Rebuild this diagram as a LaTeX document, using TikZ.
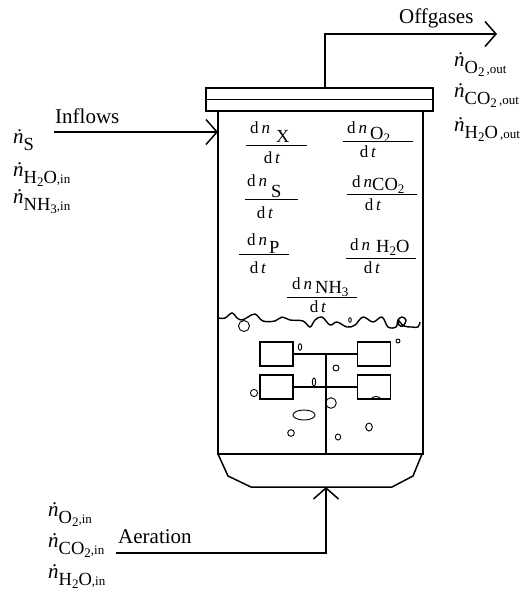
\documentclass[tikz,border=0pt]{standalone}
\usepackage{fontspec}
\setmainfont{Liberation Serif}
\usetikzlibrary{arrows.meta, positioning, calc}

\newcommand{\szbig}{\fontsize{21}{21}\selectfont}
\newcommand{\szspec}{\fontsize{18.5}{18.5}\selectfont}
\newcommand{\szmid}{\fontsize{17}{17}\selectfont}
\newcommand{\sztiny}{\fontsize{13}{13}\selectfont}
\newcommand{\lowtwo}[1]{\raisebox{-3pt}{\sztiny #1}}
\newcommand{\ndot}{\szbig\textit{\.n}}
% flow symbol: species in the middle size, suffix small
\newcommand{\flowsym}[2]{\ndot\raisebox{-7pt}{\szspec #1}\raisebox{-7pt}{\sztiny #2}}

\tikzset{
  flowline/.style={line width=1.5pt, -{Straight Barb[length=11pt,width=25pt,line width=1.5pt]}},
  wall/.style={line width=1.5pt},
  caption/.style={anchor=base west, inner sep=0pt, font=\szbig},
  flowlabel/.style={anchor=base west, inner sep=0pt},
  ratepart/.style={anchor=base west, inner sep=0pt, font=\szmid},
  ratespecies/.style={anchor=base west, inner sep=0pt, font=\szspec},
  ratedt/.style={anchor=base, inner sep=0pt, font=\szmid},
  paddle/.style={draw, line width=1.8pt, minimum width=33pt, minimum height=24pt, inner sep=0pt},
  bubble/.style={line width=.9pt},
}

% name, rule x0, rule x1, rule y, dn x, dn y, species x, species y, species, dt x, dt y
\newcommand{\ratefrac}[9]{%
  \draw[line width=.7pt] (#2,#4) -- (#3,#4);
  \node[ratepart] (dn#1) at (#5,#6) {d\,\textit{n}};
  \node[ratespecies] (sp#1) at (#7,#8) {#9};
  \ratedt{#1}}
\newcommand{\ratedt}[3]{\node[ratedt] (dt#1) at (#2,#3) {d\,\textit{t}};}

\begin{document}
\begin{tikzpicture}[x=1pt, y=-1pt]
  \useasboundingbox (0,0) rectangle (527,592);

  % vessel
  \node[draw, line width=1.5pt, minimum width=227pt, minimum height=23pt, inner sep=0pt] (lid) at (319.5,99.5) {};
  \draw[wall] (218,111) -- (218,454) -- (423,454) -- (423,111);
  \draw[wall] (lid.west) -- (lid.east);
  \draw[wall] (218,454) -- (228,476) -- (251,487) -- (392,487) -- (413,476) -- (422,454);

  % surface
  \draw[line width=1.4pt] plot[smooth, tension=.6] coordinates {
    (218,318) (225,318) (232,313) (237,318) (242,320) (248,317) (255,314) (263,321)
    (275,321) (282,317) (290,320) (303,321) (310,327) (315,320) (322,317) (330,325)
    (337,322) (347,327) (355,325) (363,317) (373,322) (382,317) (388,327) (396,327)
    (398,320) (402,317) (406,320) (403,326) (399,325) (398,320) (404,326) (412,327) (418,327) (420,322)};

  % impeller
  \node[paddle] (paddleTL) at (276.5,354) {};
  \node[paddle] (paddleBL) at (276.5,387) {};
  \node[paddle] (paddleTR) at (374,354) {};
  \node[paddle] (paddleBR) at (374,387) {};
  \coordinate (shaftTop) at (326,354);
  \coordinate (shaftEnd) at (326,454);
  \draw[line width=1.1pt] (paddleTL) -- (paddleTR);
  \draw[line width=1.5pt] (paddleBL) -- (paddleBR);
  \draw[line width=1.2pt] (shaftTop) -- (shaftEnd);

  % bubbles
  \foreach \bx/\by/\brx/\bry in {244/326/5.5/5.5, 300/347/1.7/3.3, 350/320/1.3/2.3, 398/341/2/2,
      336/368/3/3, 314/382/1.7/4, 254/393/3.6/3.6, 331/403/5.3/5.3, 304/415/11/5,
      369/427/3.3/4, 291/433/3.3/3.3, 338/437/2.7/3}
    \draw[bubble] (\bx,\by) ellipse ({\brx} and {\bry});
  \draw[bubble] (371,399.5) arc[start angle=180, end angle=360, x radius=5, y radius=3];

  % rates
  \ratefrac{X}{246}{307}{145}{250}{133}{276}{142}{X}{272}{163}
  \ratefrac{Otwo}{343}{413}{141}{347}{133}{370}{139}{O\lowtwo{2}}{368}{157}
  \ratefrac{S}{245}{298}{199}{247}{186}{271}{197}{S}{265}{218}
  \ratefrac{COtwo}{347}{417}{194}{352}{187}{372}{190}{CO\lowtwo{2}}{373}{210}
  \ratefrac{P}{239}{289}{254}{247}{245}{269}{253}{P}{258}{273}
  \ratefrac{HtwoO}{346}{416}{258}{350}{250}{376}{252}{H\lowtwo{2}O}{372}{273}
  \ratefrac{NHthree}{287}{357}{297}{292}{289}{315}{293}{NH\lowtwo{3}}{318}{312}

  % offgases
  \coordinate (offStart) at (325,88);
  \coordinate (offBend) at (325,34);
  \coordinate (offEnd) at (497,34);
  \draw[flowline] (offStart) -- (offBend) -- (offEnd);
  \node[caption] (offgases) at (399,23) {Offgases};
  \node[flowlabel] (outOtwo) at (454,66) {\flowsym{O\lowtwo{2}}{\,,out}};
  \node[flowlabel] (outCOtwo) at (454,97) {\flowsym{CO\lowtwo{2}}{\,,out}};
  \node[flowlabel] (outHtwoO) at (454,131) {\flowsym{H\lowtwo{2}O}{\,,out}};

  % inflows
  \coordinate (inStart) at (54,132);
  \coordinate (inEnd) at (218,132);
  \draw[flowline] (inStart) -- (inEnd);
  \node[caption] (inflows) at (55,123) {Inflows};
  \node[flowlabel] (inS) at (13,143) {\flowsym{S}{}};
  \node[flowlabel] (inHtwoO) at (13,176) {\flowsym{H\lowtwo{2}O}{,in}};
  \node[flowlabel] (inNHthree) at (13,203) {\flowsym{NH\lowtwo{3}}{,in}};

  % aeration
  \coordinate (airStart) at (116,553);
  \coordinate (airBend) at (326,553);
  \coordinate (airEnd) at (326,487);
  \draw[flowline] (airStart) -- (airBend) -- (airEnd);
  \node[caption] (aeration) at (118,543) {Aeration};
  \node[flowlabel] (airOtwo) at (48,516) {\flowsym{O\lowtwo{2}}{,in}};
  \node[flowlabel] (airCOtwo) at (48,547) {\flowsym{CO\lowtwo{2}}{,in}};
  \node[flowlabel] (airHtwoO) at (48,578) {\flowsym{H\lowtwo{2}O}{,in}};
\end{tikzpicture}
\end{document}
